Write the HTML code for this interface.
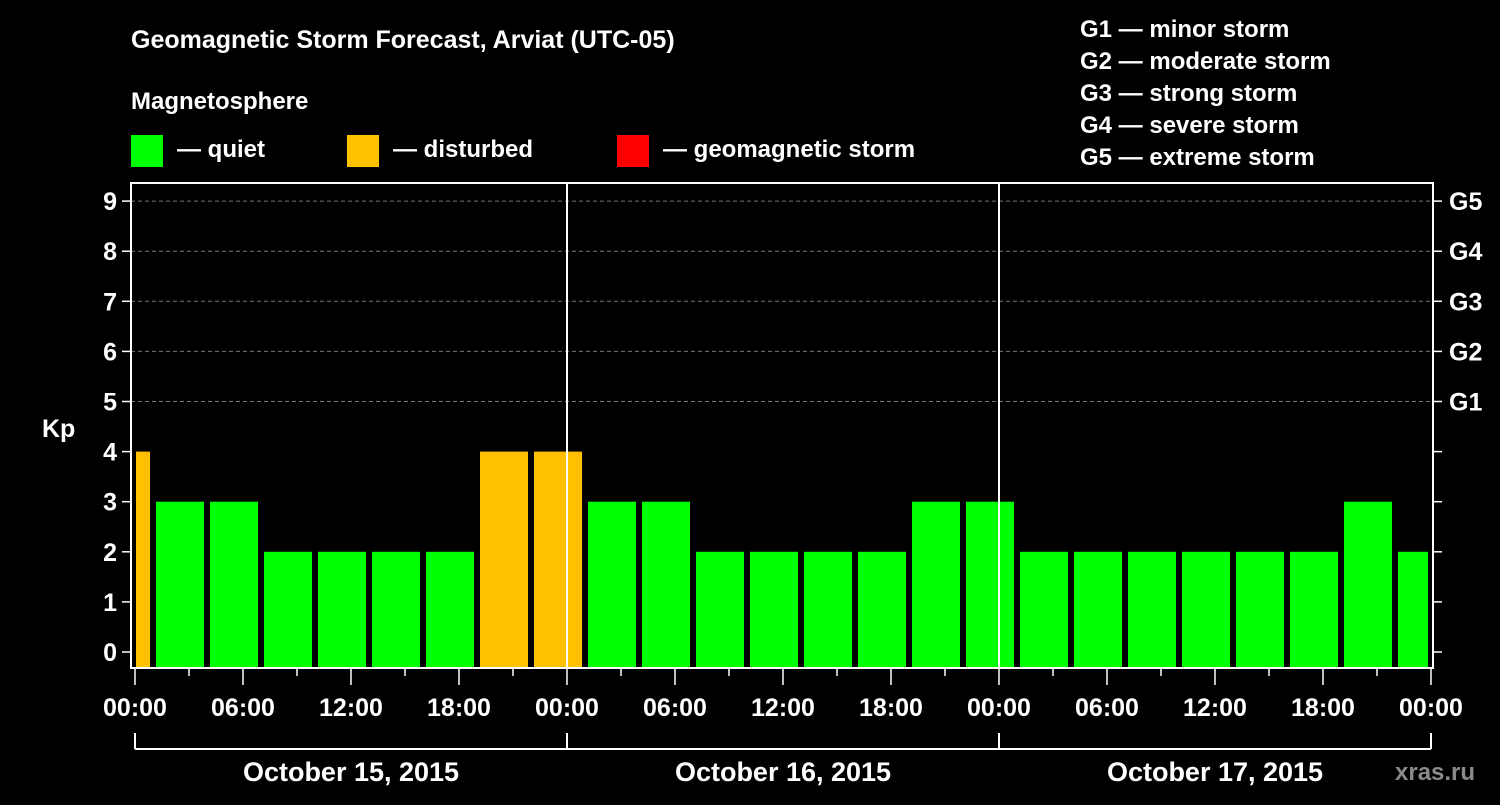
<!DOCTYPE html>
<html><head><meta charset="utf-8"><style>
body{margin:0;background:#000;}
svg text{font-family:"Liberation Sans",Arial,sans-serif;font-weight:bold;fill:#fff;}
</style></head><body>
<svg id="chart" width="1500" height="800" viewBox="0 0 1500 800" xmlns="http://www.w3.org/2000/svg">
<rect width="1500" height="800" fill="#000"/>
<text x="131" y="48" font-size="25">Geomagnetic Storm Forecast, Arviat (UTC-05)</text>
<text x="131" y="109" font-size="24">Magnetosphere</text>
<g><rect x="131" y="135" width="32" height="32" fill="#00ff00"/><text x="177" y="157" font-size="24">— quiet</text></g>
<g><rect x="347" y="135" width="32" height="32" fill="#ffc000"/><text x="393" y="157" font-size="24">— disturbed</text></g>
<g><rect x="617" y="135" width="32" height="32" fill="#ff0000"/><text x="663" y="157" font-size="24">— geomagnetic storm</text></g>
<g font-size="24">
<text x="1080" y="37">G1 — minor storm</text>
<text x="1080" y="69">G2 — moderate storm</text>
<text x="1080" y="101">G3 — strong storm</text>
<text x="1080" y="133">G4 — severe storm</text>
<text x="1080" y="165">G5 — extreme storm</text>
</g>
<text x="42" y="437" font-size="25">Kp</text>
<text x="1395" y="780" font-size="24" fill="#888" style="fill:#8a8a8a">xras.ru</text>
<g id="grid"></g>
<g id="bars"></g>
<g id="axes"></g>
</svg>
<script>
const binStartHours=[-2,1,4,7,10,13,16,19,22,25,28,31,34,37,40,43,46,49,52,55,58,61,64,67,70];
const kpValues=[4,3,3,2,2,2,2,4,4,3,3,2,2,2,2,3,3,2,2,2,2,2,2,3,2];
const yTicks=[0,1,2,3,4,5,6,7,8,9];
const gLabels=["G1","G2","G3","G4","G5"];
const xTickLabels=["00:00","06:00","12:00","18:00","00:00","06:00","12:00","18:00","00:00","06:00","12:00","18:00","00:00"];
const dayLabels=["October 15, 2015","October 16, 2015","October 17, 2015"];
const NS="http://www.w3.org/2000/svg";
const L=131,R=1433,T=183,B=668,X0=135,HW=18;
const x=h=>X0+h*HW;
const y=v=>652-v*50.1;
function mk(tag,attrs,parent,txt){const e=document.createElementNS(NS,tag);for(const k in attrs)e.setAttribute(k,attrs[k]);if(txt!==undefined)e.textContent=txt;parent.appendChild(e);return e;}
const grid=document.getElementById('grid'),bars=document.getElementById('bars'),axes=document.getElementById('axes');
for(let v=5;v<=9;v++){const l=mk('line',{x1:L,x2:R,y1:y(v),y2:y(v),stroke:'#777','stroke-dasharray':'4,3','stroke-width':1},grid);

}
binStartHours.forEach((h,i)=>{
 const v=kpValues[i];
 let x1=Math.max(x(h)+3,L+5),x2=Math.min(x(h+3)-3,R-5);
 const col=v>=5?'#ff0000':(v>=4?'#ffc000':'#00ff00');
 const r=mk('rect',{x:x1,y:y(v),width:x2-x1,height:B-1-y(v),fill:col},bars);
 
 
});
[1,2].forEach(d=>{const l=mk('line',{x1:x(24*d),x2:x(24*d),y1:T,y2:B,stroke:'#fff','stroke-width':2},axes);

});
const fr=mk('rect',{x:L,y:T,width:R-L,height:B-T,fill:'none',stroke:'#fff','stroke-width':2},axes);


yTicks.forEach(v=>{
 mk('line',{x1:L-9,x2:L,y1:y(v),y2:y(v),stroke:'#fff','stroke-width':1.5},axes);
 mk('line',{x1:R,x2:R+9,y1:y(v),y2:y(v),stroke:'#fff','stroke-width':1.5},axes);
 const t=mk('text',{x:L-14,y:y(v)+9,'font-size':25,'text-anchor':'end'},axes,String(v));
 
 
});
gLabels.forEach((g,i)=>{const t=mk('text',{x:R+16,y:y(5+i)+9,'font-size':25},axes,g);

});
for(let h=0;h<=72;h+=3){const major=h%6===0;mk('line',{x1:x(h),x2:x(h),y1:B,y2:B+(major?17:8),stroke:'#fff','stroke-width':1.5},axes);}
xTickLabels.forEach((s,i)=>{const t=mk('text',{x:x(i*6),y:716,'font-size':25,'text-anchor':'middle'},axes,s);

});
mk('line',{x1:x(0),x2:x(72),y1:749,y2:749,stroke:'#fff','stroke-width':2},axes);
for(let d=0;d<=3;d++)mk('line',{x1:x(24*d),x2:x(24*d),y1:733,y2:749,stroke:'#fff','stroke-width':2},axes);
dayLabels.forEach((s,i)=>{const t=mk('text',{x:x(24*i+12),y:781,'font-size':27,'text-anchor':'middle'},axes,s);

});
</script>
</body></html>
